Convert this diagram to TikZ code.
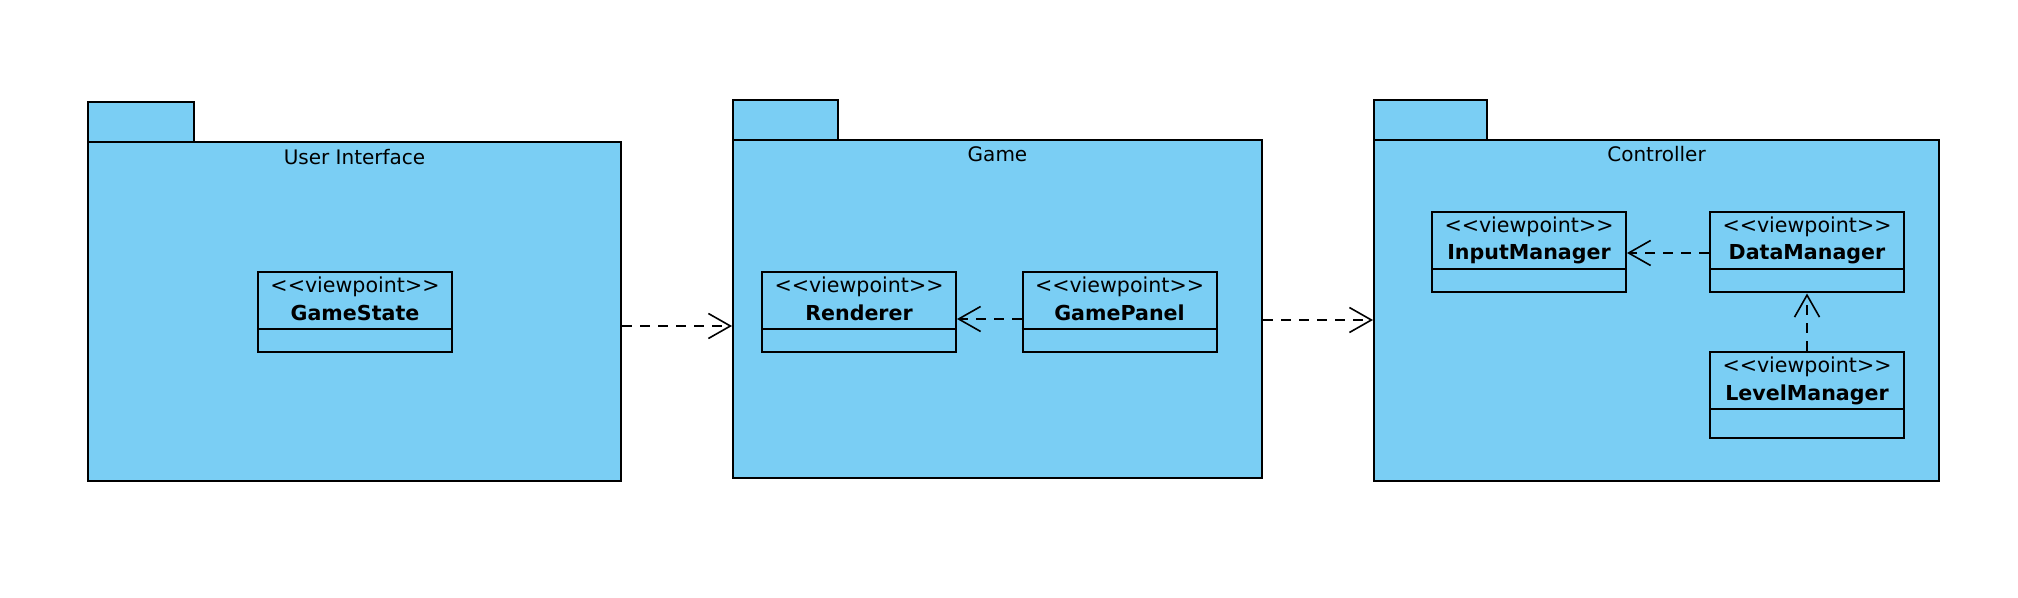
\documentclass[tikz,border=0pt]{standalone}
\usepackage{fontspec}
\setmainfont{DejaVu Sans}
\usetikzlibrary{arrows.meta}
\definecolor{pkgblue}{RGB}{122,206,244}
\tikzset{
  boxbase/.style={draw=black, fill=pkgblue, line width=1pt, inner sep=0pt, rectangle},
  pkgbody/.style={boxbase},
  pkgtab/.style={boxbase, minimum height=20pt},
  clsbox/.style={boxbase, minimum width=97pt, minimum height=40pt},
  divline/.style={draw=black, line width=1pt},
  ttl/.style={font=\fontsize{10}{12}\selectfont, inner sep=0pt},
  stereo/.style={font=\fontsize{10.3}{12}\selectfont, inner sep=0pt},
  cname/.style={font=\fontsize{10.3}{12}\selectfont\bfseries, inner sep=0pt},
  dep/.style={draw=black, line width=0.8pt, dash pattern=on 5pt off 4pt,
    -{Straight Barb[length=11pt, width=12.5pt, line width=0.8pt]}}
}
\newcommand{\vp}{<\kern0pt<viewpoint>\kern0pt>}
\begin{document}
\begin{tikzpicture}[x=0.5pt, y=-0.5pt]
\useasboundingbox (0,0) rectangle (2018,598);

% ---------- User Interface package
\node[pkgtab, minimum width=53pt] (uitab) at (141,122) {};
\node[pkgbody, minimum width=266.5pt, minimum height=169.5pt] (uibody) at (354.5,311.5) {};
\node[ttl] (uititle) at (354.5,157) {User Interface};

\node[clsbox] (gs) at (355,312) {};
\draw[divline] ([yshift=12pt]gs.south west) -- ([yshift=12pt]gs.south east);
\node[stereo] (gsst) at (355,287) {\vp};
\node[cname] (gsname) at (355,313) {GameState};

% ---------- Game package
\node[pkgtab, minimum width=52.5pt] (gametab) at (785.5,120) {};
\node[pkgbody, minimum width=264.5pt, minimum height=169pt] (gamebody) at (997.5,309) {};
\node[ttl] (gametitle) at (997.5,154) {Game};

\node[clsbox] (rend) at (859,312) {};
\draw[divline] ([yshift=12pt]rend.south west) -- ([yshift=12pt]rend.south east);
\node[stereo] (rendst) at (859,287) {\vp};
\node[cname] (rendname) at (859,313) {Renderer};

\node[clsbox] (gp) at (1119.5,312) {};
\draw[divline] ([yshift=12pt]gp.south west) -- ([yshift=12pt]gp.south east);
\node[stereo] (gpst) at (1119.5,287) {\vp};
\node[cname] (gpname) at (1119.5,313) {GamePanel};

% ---------- Controller package
\node[pkgtab, minimum width=56.5pt] (ctab) at (1430.5,120) {};
\node[pkgbody, minimum width=282.5pt, minimum height=170.5pt] (cbody) at (1656.5,310.5) {};
\node[ttl] (ctitle) at (1656.5,154) {Controller};

\node[clsbox] (im) at (1529,252.5) {};
\draw[divline] ([yshift=12pt]im.south west) -- ([yshift=12pt]im.south east);
\node[stereo] (imst) at (1529,227) {\vp};
\node[cname] (imname) at (1529,254) {InputManager};

\node[clsbox] (dm) at (1807,252.5) {};
\draw[divline] ([yshift=12pt]dm.south west) -- ([yshift=12pt]dm.south east);
\node[stereo] (dmst) at (1807,227) {\vp};
\node[cname] (dmname) at (1807,254) {DataManager};

\node[clsbox, minimum height=43pt] (lm) at (1807,395) {};
\draw[divline] ([yshift=15pt]lm.south west) -- ([yshift=15pt]lm.south east);
\node[stereo] (lmst) at (1807,367) {\vp};
\node[cname] (lmname) at (1807,395) {LevelManager};

% ---------- dependencies
\coordinate (ya) at (0,326);
\coordinate (yb) at (0,319);
\coordinate (yc) at (0,320);
\coordinate (yd) at (0,253);
\draw[dep] (uibody.east |- ya) -- (gamebody.west |- ya);
\draw[dep] (gp.west |- yb) -- (rend.east |- yb);
\draw[dep] (gamebody.east |- yc) -- (cbody.west |- yc);
\draw[dep] (dm.west |- yd) -- (im.east |- yd);
\draw[dep] (lm.north) -- (dm.south);
\end{tikzpicture}
\end{document}
